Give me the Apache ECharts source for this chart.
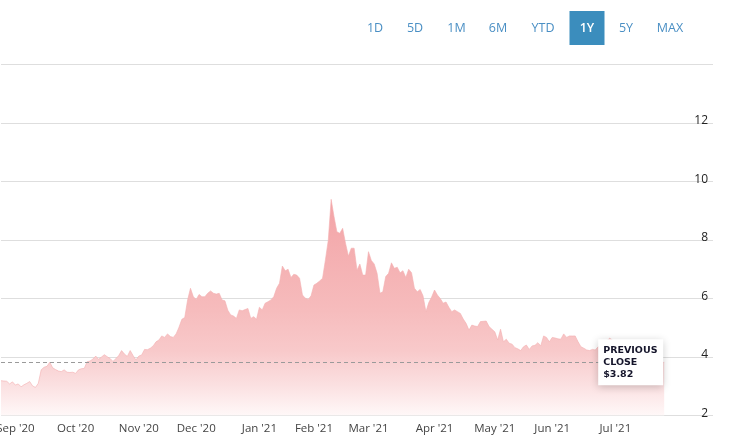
<!DOCTYPE html>
<html>
<head>
<meta charset="utf-8">
<script src="https://cdn.jsdelivr.net/npm/echarts@6.0.0/dist/echarts.min.js"></script>
<style>
    html, body { margin: 0; padding: 0; background: #fff; }
    #chart { width: 732px; height: 440px; }
</style>
</head>
<body>
<div id="chart"></div>
<script>
// range switcher shown above the chart
var rangeButtons = ['1D', '5D', '1M', '6M', 'YTD', '1Y', '5Y', 'MAX'];
var activeRange = '1Y';

// daily closes, one per trading day starting 25 Aug 2020
var closes = [
    3.19, 3.18, 3.17, 3.08, 3.15, 3.04, 3.08, 2.98, 3.05, 3.10,
    3.16, 3.01, 2.96, 3.10, 3.56, 3.65, 3.68, 3.82, 3.63, 3.57,
    3.52, 3.50, 3.56, 3.48, 3.47, 3.48, 3.44, 3.56, 3.60, 3.61,
    3.84, 3.86, 3.93, 4.03, 3.92, 4.00, 4.08, 4.01, 3.95, 3.85,
    3.94, 4.05, 4.22, 4.10, 4.02, 4.22, 4.05, 3.90, 4.03, 4.07,
    4.26, 4.25, 4.30, 4.38, 4.52, 4.58, 4.72, 4.67, 4.79, 4.70,
    4.67, 4.79, 5.02, 5.29, 5.35, 5.95, 6.35, 6.06, 5.97, 6.14,
    6.06, 6.06, 6.18, 6.26, 6.18, 6.15, 6.18, 5.95, 5.92, 5.60,
    5.44, 5.40, 5.32, 5.61, 5.58, 5.62, 5.66, 5.32, 5.38, 5.29,
    5.70, 5.61, 5.84, 5.89, 5.95, 6.06, 6.35, 6.52, 7.11, 6.95,
    7.00, 6.72, 6.83, 6.80, 6.69, 6.12, 6.01, 5.97, 6.09, 6.46,
    6.52, 6.60, 6.69, 7.32, 8.00, 9.39, 8.80, 8.28, 8.23, 8.40,
    7.89, 7.45, 7.72, 7.72, 6.97, 7.18, 6.80, 6.80, 7.60, 7.30,
    7.18, 6.86, 6.18, 6.23, 6.75, 6.86, 7.22, 7.03, 7.07, 6.88,
    6.95, 6.72, 7.00, 6.88, 6.35, 6.23, 6.31, 6.09, 5.55, 5.86,
    6.05, 6.29, 6.12, 6.00, 5.84, 5.88, 5.70, 5.55, 5.61, 5.55,
    5.49, 5.30, 5.15, 4.92, 5.09, 5.06, 5.04, 5.21, 5.22, 5.23,
    5.04, 4.95, 4.86, 4.58, 4.95, 4.52, 4.61, 4.47, 4.44, 4.32,
    4.28, 4.22, 4.35, 4.41, 4.26, 4.38, 4.40, 4.49, 4.38, 4.72,
    4.67, 4.52, 4.67, 4.65, 4.62, 4.61, 4.79, 4.67, 4.72, 4.72,
    4.72, 4.52, 4.35, 4.30, 4.24, 4.22, 4.26, 4.24, 4.35, 4.40,
    4.45, 4.55, 4.64, 4.58, 4.45, 4.35, 4.30, 4.20, 4.15, 4.10,
    4.05, 4.00, 3.98, 3.95, 3.92, 3.90, 3.88, 3.85, 3.86, 3.84, 3.80, 3.82
];

var previousClose = 3.82;

var firstDay = '2020-08-25';
var extraDays = 17; // empty room on the right of the last close
var holidays = ['2020-09-07', '2020-11-26', '2020-12-25', '2021-01-01', '2021-01-18',
    '2021-02-15', '2021-04-02', '2021-05-31', '2021-07-05'];
var monthNames = ['Jan', 'Feb', 'Mar', 'Apr', 'May', 'Jun', 'Jul', 'Aug', 'Sep', 'Oct', 'Nov', 'Dec'];

var yMin = 2, yMax = 14, yStep = 2;

// button layout (centres in px)
var btnCenters = [375, 415, 456.5, 498, 543, 587, 626, 670];

function tradingDays(start, count) {
    var days = [];
    var d = new Date(start + 'T00:00:00Z');
    while (days.length < count) {
        var s = d.toISOString().slice(0, 10);
        var wd = d.getUTCDay();
        if (wd != 0 && wd != 6 && holidays.indexOf(s) < 0) {
            days.push(s);
        }
        d = new Date(d.getTime() + 86400000);
    }
    return days;
}

var days = tradingDays(firstDay, closes.length + extraDays);

function isMonthStart(i) {
    if (i == 0 || i >= closes.length) return false;
    return days[i].slice(5, 7) != days[i - 1].slice(5, 7);
}

var buttons = [];
rangeButtons.forEach(function (name, i) {
    var active = name == activeRange;
    if (active) {
        buttons.push({
            type: 'rect',
            shape: { x: btnCenters[i] - 17.5, y: 11, width: 35, height: 34 },
            style: { fill: '#3b8dbd' }
        });
    }
    buttons.push({
        type: 'text',
        x: btnCenters[i],
        y: 28,
        style: {
            text: name,
            fill: active ? '#ffffff' : '#4a8fc4',
            font: (active ? '600 ' : '') + '12.5px "Open Sans"',
            align: 'center',
            verticalAlign: 'middle'
        }
    });
});

var chart = echarts.init(document.getElementById('chart'));

var option = {
    animation: false,
    backgroundColor: '#fff',
    grid: {
        left: 1,
        right: 19,
        top: 64.5,
        bottom: 24.5,
        outerBoundsMode: 'none'
    },
    graphic: buttons,
    xAxis: {
        type: 'category',
        data: days,
        boundaryGap: false,
        axisLine: { show: false },
        axisTick: { show: false },
        splitLine: { show: false },
        axisLabel: {
            interval: function (i) { return isMonthStart(i); },
            formatter: function (v) {
                return monthNames[+v.slice(5, 7) - 1] + " '" + v.slice(2, 4);
            },
            color: '#444',
            fontFamily: 'Open Sans',
            fontSize: 11.5,
            margin: 7
        }
    },
    yAxis: {
        type: 'value',
        position: 'right',
        min: yMin,
        max: yMax,
        interval: yStep,
        axisLine: { show: false },
        axisTick: { show: false },
        splitLine: { lineStyle: { color: '#dedede', width: 1 } },
        axisLabel: {
            inside: true,
            showMaxLabel: false,
            verticalAlign: 'bottom',
            lineHeight: 4,
            margin: 5,
            color: '#222',
            fontFamily: 'Open Sans',
            fontSize: 12
        }
    },
    series: [{
        type: 'line',
        data: closes,
        showSymbol: false,
        silent: true,
        lineStyle: { width: 0.6, color: '#f3aeb0' },
        areaStyle: {
            origin: 'start',
            opacity: 1,
            color: new echarts.graphic.LinearGradient(0, 0, 0, 1, [
                { offset: 0, color: '#f3a3a6' },
                { offset: 0.5, color: '#f6bbbc' },
                { offset: 0.7, color: '#f8c9ca' },
                { offset: 0.86, color: '#fbe0e1' },
                { offset: 1, color: '#fff8f8' }
            ])
        },
        markLine: {
            silent: true,
            symbol: ['none', 'none'],
            lineStyle: { type: [4, 3], color: '#9a9a9a', width: 1 },
            label: {
                position: 'end',
                distance: [-66, 0],
                formatter: 'PREVIOUS\nCLOSE\n$' + previousClose.toFixed(2),
                color: '#14142a',
                fontFamily: 'DejaVu Sans',
                fontWeight: 'bold',
                fontSize: 9.5,
                lineHeight: 12,
                width: 55,
                align: 'left',
                backgroundColor: '#fff',
                padding: [5, 5, 5, 5],
                shadowBlur: 8,
                shadowColor: 'rgba(0,0,0,0.2)',
                shadowOffsetY: 2
            },
            data: [[
                { coord: [days[0], previousClose] },
                { coord: [days[closes.length - 1], previousClose] }
            ]]
        }
    }]
};

chart.setOption(option);

window.onresize = function () {
    chart.resize();
};
</script>
</body>
</html>
